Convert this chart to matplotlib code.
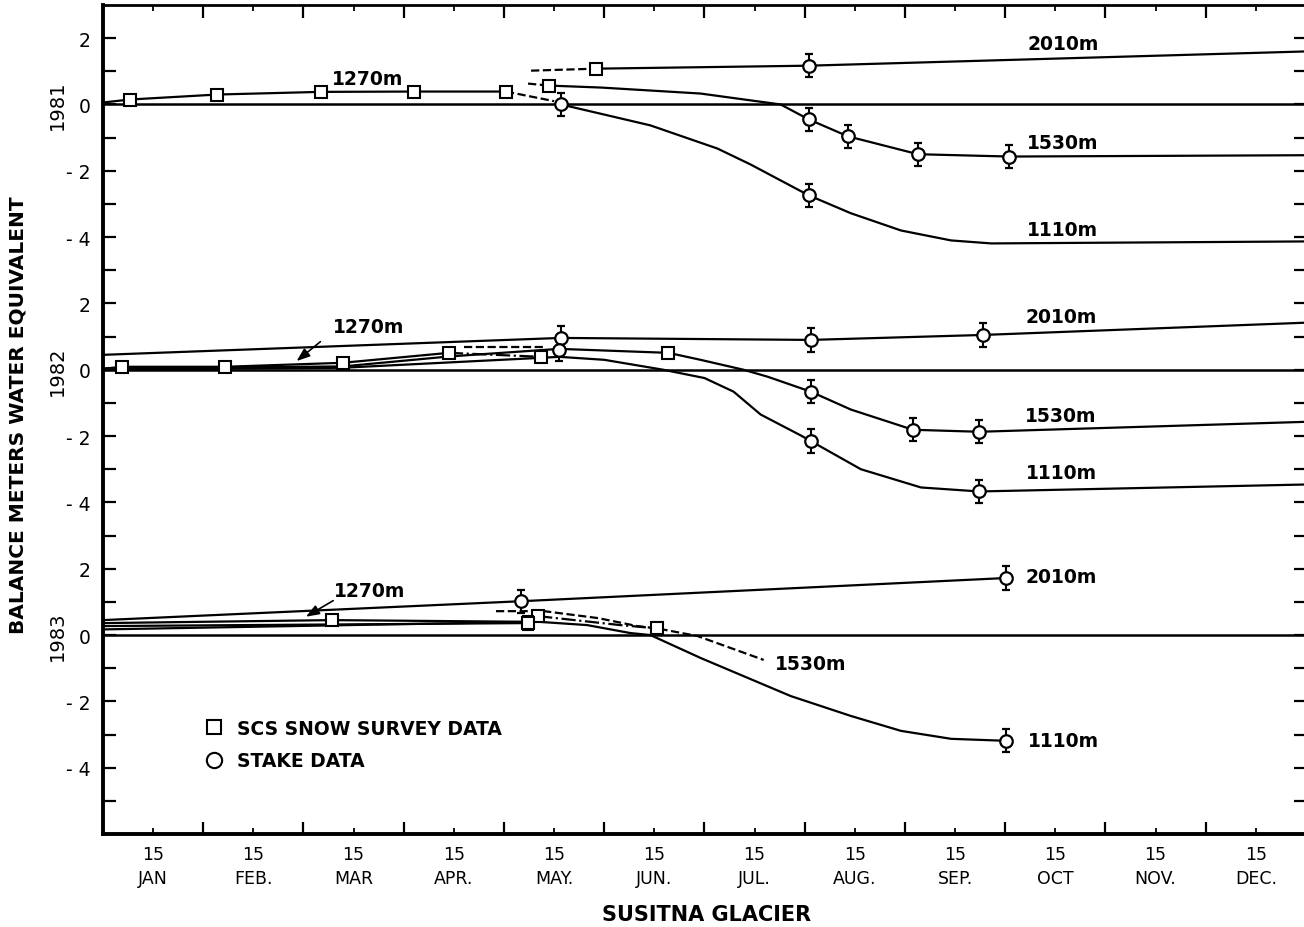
import matplotlib
matplotlib.use('Agg')
import matplotlib.pyplot as plt
from matplotlib.lines import Line2D

plt.rcParams['font.family'] = ['DejaVu Sans']

# x: months since 1 Jan (0..12), y: balance in m water equivalent
meses = ['JAN', 'FEB.', 'MAR', 'APR.', 'MAY.', 'JUN.', 'JUL.', 'AUG.', 'SEP.', 'OCT', 'NOV.', 'DEC.']
anios = ['1981', '1982', '1983']
desplaz = [16, 8, 0]  # each year is stacked 8 units above the next one

y_tick_pos = [18, 16, 14, 12, 10, 8, 6, 4, 2, 0, -2, -4]
y_tick_lab = ['2', '0', '- 2', '- 4', '2', '0', '- 2', '- 4', '2', '0', '- 2', '- 4']

# ---- 1981 ----
x81_2010_lead = [4.27, 4.92]
y81_2010_lead = [1.02, 1.08]
x81_2010 = [4.92, 7.04, 12.0]
y81_2010 = [1.08, 1.17, 1.60]
x81_1270 = [0.0, 0.27, 1.14, 2.17, 3.10, 4.02]
y81_1270 = [0.06, 0.15, 0.30, 0.38, 0.39, 0.39]
x81_1270_tail = [4.02, 4.50]
y81_1270_tail = [0.39, 0.10]
x81_1530_lead = [4.24, 4.45]
y81_1530_lead = [0.63, 0.57]
x81_1530 = [4.45, 4.97, 5.96, 6.76, 7.04, 7.43, 8.13, 9.04, 12.0]
y81_1530 = [0.57, 0.51, 0.33, 0.0, -0.45, -0.96, -1.50, -1.57, -1.53]
x81_1110 = [4.57, 5.46, 6.13, 6.46, 7.04, 7.46, 7.96, 8.46, 8.86, 12.0]
y81_1110 = [0.0, -0.63, -1.33, -1.81, -2.74, -3.28, -3.80, -4.10, -4.19, -4.13]
sq81_x = [0.27, 1.14, 2.17, 3.10, 4.02]
sq81_y = [0.15, 0.30, 0.38, 0.39, 0.39]
sqb81_x = [4.92, 4.45]
sqb81_y = [1.08, 0.57]
st81_x = [7.04, 4.57, 7.04, 7.43, 8.13, 9.04, 7.04]
st81_y = [1.17, 0.0, -0.45, -0.96, -1.50, -1.57, -2.74]

# ---- 1982 ----
x82_2010 = [0.0, 4.57, 7.06, 8.78, 12.0]
y82_2010 = [0.45, 0.96, 0.90, 1.05, 1.42]
x82_1270 = [0.0, 0.19, 1.22, 2.39, 3.45]
y82_1270 = [0.03, 0.09, 0.09, 0.21, 0.51]
x82_1270_tail = [3.45, 4.37]
y82_1270_tail = [0.51, 0.39]
x82_1530_dash = [3.60, 4.40]
y82_1530_dash = [0.69, 0.69]
x82_1530 = [0.0, 2.39, 3.45, 4.55, 5.64, 5.96, 6.39, 6.63, 7.06, 7.46, 8.08, 8.74, 12.0]
y82_1530 = [0.04, 0.10, 0.40, 0.63, 0.51, 0.30, 0.0, -0.21, -0.66, -1.20, -1.81, -1.87, -1.57]
x82_1110 = [0.0, 2.39, 4.37, 4.55, 5.00, 5.59, 6.00, 6.29, 6.56, 6.96, 7.06, 7.56, 8.16, 8.74, 12.0]
y82_1110 = [0.0, 0.06, 0.36, 0.39, 0.30, 0.0, -0.25, -0.66, -1.35, -1.98, -2.15, -3.00, -3.55, -3.67, -3.46]
sq82_x = [0.19, 1.22, 2.39, 3.45, 4.37]
sq82_y = [0.09, 0.09, 0.21, 0.51, 0.39]
sqb82_x = [5.64]
sqb82_y = [0.51]
st82_x = [4.57, 7.06, 8.78, 4.55, 7.06, 8.08, 8.74, 7.06, 8.74]
st82_y = [0.96, 0.90, 1.05, 0.60, -0.66, -1.81, -1.87, -2.15, -3.67]

# ---- 1983 ----
x83_2010 = [0.0, 4.17, 9.01]
y83_2010 = [0.45, 1.02, 1.72]
x83_1270 = [0.0, 2.28, 4.24]
y83_1270 = [0.36, 0.45, 0.40]
x83_1270_tail = [4.34, 5.16, 5.53]
y83_1270_tail = [0.57, 0.30, 0.20]
x83_1530_lead = [0.0, 4.24]
y83_1530_lead = [0.27, 0.36]
x83_1530 = [3.92, 4.40, 4.94, 5.33, 5.53, 5.93, 6.59]
y83_1530 = [0.72, 0.72, 0.51, 0.27, 0.20, -0.03, -0.75]
x83_1110 = [0.0, 4.34, 4.83, 5.26, 5.46, 5.96, 6.86, 7.46, 7.96, 8.46, 9.01]
y83_1110 = [0.17, 0.40, 0.30, 0.06, 0.0, -0.69, -1.84, -2.44, -2.89, -3.13, -3.19]
sq83_x = [2.28, 4.34]
sq83_y = [0.45, 0.57]
sqb83_x = [4.24, 5.53]
sqb83_y = [0.36, 0.20]
st83_x = [4.17, 9.01, 9.01]
st83_y = [1.02, 1.72, -3.19]

# elevation labels: (x, y, text) relative to each year's zero
etiq81 = [(2.64, 0.78, '1270m'), (9.58, 1.84, '2010m'), (9.57, -1.14, '1530m'), (9.57, -3.77, '1110m')]
etiq82 = [(2.65, 1.30, '1270m'), (9.56, 1.60, '2010m'), (9.55, -1.39, '1530m'), (9.56, -3.10, '1110m')]
etiq83 = [(2.66, 1.33, '1270m'), (9.56, 1.78, '2010m'), (7.06, -0.87, '1530m'), (9.58, -3.19, '1110m')]
# arrows for the 1270m label: (tail x, tail y, tip x, tip y)
flecha82 = (2.19, 0.90, 1.91, 0.21)
flecha83 = (2.32, 1.08, 2.00, 0.51)

fig = plt.figure(figsize=(13.04, 9.28), dpi=100)
ax = fig.add_axes([103 / 1304, 1 - 835 / 928, 1203 / 1304, 829 / 928])
ax.set_xlim(0, 12)
ax.set_ylim(-6, 19)


def curva(x, y, off, ls='-'):
    ax.plot(x, [v + off for v in y], color='black', lw=1.6, ls=ls, zorder=2)


def nieve(x, y, off, err=None):
    if err is None:
        ax.plot(x, [v + off for v in y], 's', ms=8, mfc='white', mec='black', mew=1.5, zorder=4)
    else:
        ax.errorbar(x, [v + off for v in y], yerr=err, fmt='s', ms=8, mfc='white', mec='black',
                    mew=1.5, ecolor='black', elinewidth=1.5, capsize=4, capthick=2, zorder=4)


def estaca(x, y, off, err=0.35):
    ax.errorbar(x, [v + off for v in y], yerr=err, fmt='o', ms=9, mfc='white', mec='black',
                mew=1.6, ecolor='black', elinewidth=1.5, capsize=3, capthick=2.2, zorder=4)


# zero line of each year
for off in desplaz:
    ax.axhline(off, color='black', lw=1.8, zorder=1)

o = desplaz[0]
curva(x81_2010_lead, y81_2010_lead, o, '--')
curva(x81_2010, y81_2010, o)
curva(x81_1270, y81_1270, o)
curva(x81_1270_tail, y81_1270_tail, o, '--')
curva(x81_1530_lead, y81_1530_lead, o, '--')
curva(x81_1530, y81_1530, o)
curva(x81_1110, y81_1110, o)
nieve(sq81_x, sq81_y, o)
nieve(sqb81_x, sqb81_y, o, err=0.15)
estaca(st81_x, st81_y, o)

o = desplaz[1]
curva(x82_2010, y82_2010, o)
curva(x82_1270, y82_1270, o)
curva(x82_1270_tail, y82_1270_tail, o, '-.')
curva(x82_1530_dash, y82_1530_dash, o, '--')
curva(x82_1530, y82_1530, o)
curva(x82_1110, y82_1110, o)
nieve(sq82_x, sq82_y, o)
nieve(sqb82_x, sqb82_y, o, err=0.15)
estaca(st82_x, st82_y, o)

o = desplaz[2]
curva(x83_2010, y83_2010, o)
curva(x83_1270, y83_1270, o)
curva(x83_1270_tail, y83_1270_tail, o, '-.')
curva(x83_1530_lead, y83_1530_lead, o)
curva(x83_1530, y83_1530, o, '--')
curva(x83_1110, y83_1110, o)
nieve(sq83_x, sq83_y, o)
nieve(sqb83_x, sqb83_y, o, err=0.2)
estaca(st83_x, st83_y, o)

for etiq, off in zip([etiq81, etiq82, etiq83], desplaz):
    for x, y, t in etiq:
        ax.text(x, y + off, t, ha='center', va='center', fontsize=13.5, fontweight='bold')

for fl, off in zip([flecha82, flecha83], desplaz[1:]):
    ax.annotate('', xy=(fl[2], fl[3] + off), xytext=(fl[0], fl[1] + off),
                arrowprops=dict(arrowstyle='-|>,head_length=0.8,head_width=0.3', color='black', lw=1.2))

# legend
marcas = [Line2D([], [], marker='s', ls='none', ms=10, mfc='white', mec='black', mew=1.5),
          Line2D([], [], marker='o', ls='none', ms=11, mfc='white', mec='black', mew=1.5)]
ax.legend(marcas, ['SCS SNOW SURVEY DATA', 'STAKE DATA'], loc='upper left',
          bbox_to_anchor=(0.0845, 0.139), frameon=False,
          prop={'weight': 'bold', 'size': 13.5}, borderaxespad=0, borderpad=0,
          handletextpad=0.72, labelspacing=0.72, handlelength=1.0)

# axes and ticks
ax.set_xticks(range(13))
ax.set_xticklabels([])
ax.set_xticks([m + 0.5 for m in range(12)], labels=['15\n' + m for m in meses], minor=True)
ax.set_yticks(y_tick_pos, labels=y_tick_lab)
ax.set_yticks([v + 0.0 for v in range(-5, 19, 2)], minor=True)
ax.tick_params(axis='x', which='major', direction='in', length=9, width=1.6, top=True, bottom=True)
ax.tick_params(axis='x', which='minor', direction='in', length=4, width=1.3, top=True, bottom=True,
               pad=8, labelsize=12.5)
ax.tick_params(axis='y', which='both', direction='in', length=9, width=1.6, left=True, right=True,
               pad=9, labelsize=13.5)
for lb in ax.get_xticklabels(minor=True):
    lb.set_linespacing(1.45)
for s in ['left', 'bottom']:
    ax.spines[s].set_linewidth(2.8)
ax.spines['top'].set_linewidth(2)
ax.spines['right'].set_linewidth(2)

fig.text(707 / 1304, 1 - 915 / 928, 'SUSITNA GLACIER', ha='center', va='center',
         fontsize=15, fontweight='bold')
fig.text(18 / 1304, 1 - 415 / 928, 'BALANCE METERS WATER EQUIVALENT', ha='center', va='center',
         rotation=90, fontsize=14.5, fontweight='bold')
for a, off in zip(anios, desplaz):
    yy = ax.transData.transform((0, off))[1] / fig.dpi / 9.28
    fig.text(57 / 1304, yy, a, ha='center', va='center', rotation=90, fontsize=14)

fig.savefig('out.png', dpi=100)
